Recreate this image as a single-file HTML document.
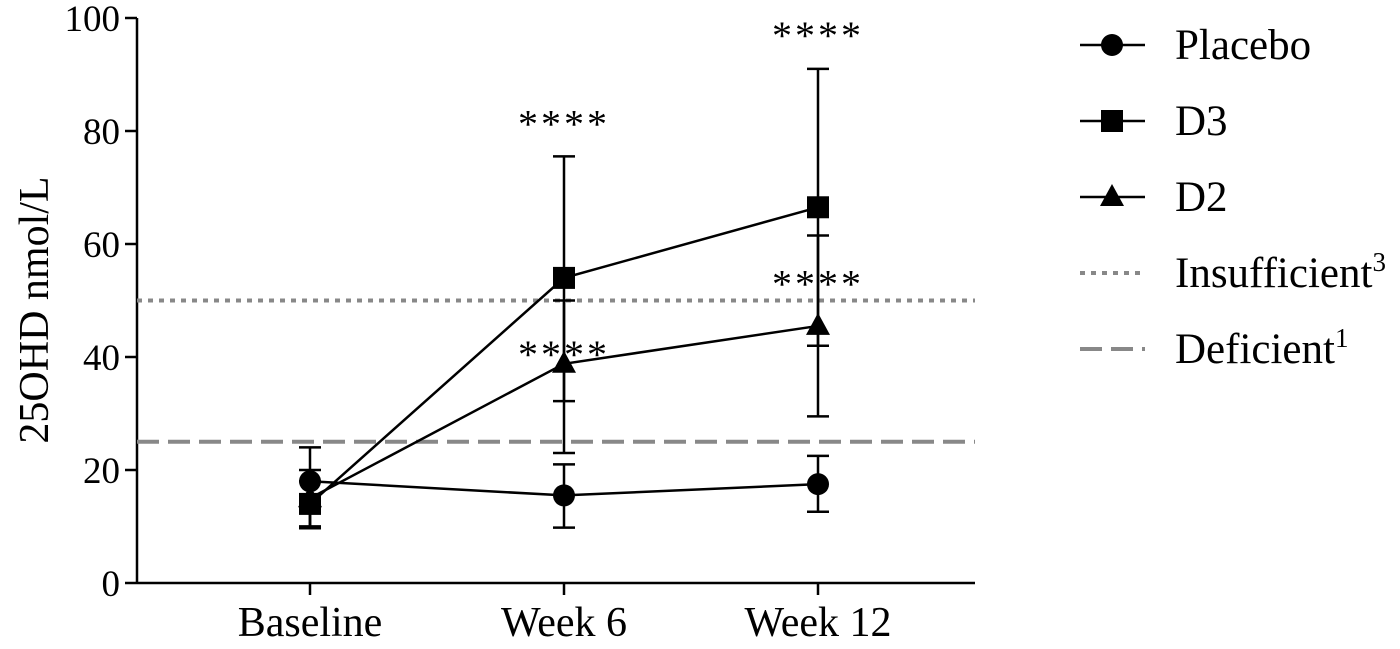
<!DOCTYPE html>
<html><head><meta charset="utf-8"><style>
body{margin:0;background:#fff}
svg text{font-family:"Liberation Serif",serif;fill:#000}
</style></head><body>
<svg id="chart" width="1400" height="644" viewBox="0 0 1400 644" xmlns="http://www.w3.org/2000/svg">
<g id="axes"></g><g id="refs"></g><g id="series"></g><g id="legend"></g>
</svg>
<script>
const categories=["Baseline","Week 6","Week 12"];
const yTicks=[0,20,40,60,80,100];
const placeboMean=[18,15.5,17.5];
const placeboLo=[10,9.8,12.6];
const placeboHi=[24,21,22.5];
const d3Mean=[14,54,66.5];
const d3Lo=[10,32.2,42];
const d3Hi=[18,75.5,91];
const d2Mean=[15,38.8,45.5];
const d2Lo=[9.7,23,29.5];
const d2Hi=[20,50,61.5];
const insufficientLevel=50;
const deficientLevel=25;
const sigLabels=[["","****","****"],["","****","****"]];

const NS="http://www.w3.org/2000/svg";
const x0=137,x1=975,yBase=583,pxPerUnit=5.65;
const ys=v=>yBase-v*pxPerUnit;
const xs=i=>310+i*254;
function mk(tag,attrs,parent,text){const e=document.createElementNS(NS,tag);for(const k in attrs)e.setAttribute(k,attrs[k]);if(text!==undefined)e.textContent=text;parent.appendChild(e);return e;}
const axes=document.getElementById('axes'),refs=document.getElementById('refs'),ser=document.getElementById('series'),leg=document.getElementById('legend');

let e=mk('line',{x1:x0,y1:ys(100),x2:x0,y2:yBase,stroke:'#000','stroke-width':2.5},axes);

e=mk('line',{x1:x0,y1:yBase,x2:x1,y2:yBase,stroke:'#000','stroke-width':2.5},axes);

yTicks.forEach(t=>{
  mk('line',{x1:x0-12,y1:ys(t),x2:x0,y2:ys(t),stroke:'#000','stroke-width':2.5},axes);
  const l=mk('text',{x:x0-17,y:ys(t)+13,'text-anchor':'end','font-size':37},axes,String(t));
  
});
categories.forEach((c,i)=>{
  mk('line',{x1:xs(i),y1:yBase,x2:xs(i),y2:yBase+12,stroke:'#000','stroke-width':2.5},axes);
  const l=mk('text',{x:xs(i),y:yBase+53,'text-anchor':'middle','font-size':42},axes,c);
  
});
e=mk('text',{x:0,y:0,transform:'translate(48,310) rotate(-90)','text-anchor':'middle','font-size':42},axes,'25OHD nmol/L');


e=mk('line',{x1:x0,y1:ys(insufficientLevel),x2:x1,y2:ys(insufficientLevel),stroke:'#888','stroke-width':4,'stroke-dasharray':'5,6'},refs);

e=mk('line',{x1:x0,y1:ys(deficientLevel),x2:x1,y2:ys(deficientLevel),stroke:'#888','stroke-width':4,'stroke-dasharray':'22,9'},refs);


function marker(shape,cx,cy,p){
  if(shape==='circle')return mk('circle',{cx:cx,cy:cy,r:11,fill:'#000'},p);
  if(shape==='square')return mk('rect',{x:cx-11,y:cy-11,width:22,height:22,fill:'#000'},p);
  return mk('polygon',{points:`${cx},${cy-13} ${cx-12},${cy+9} ${cx+12},${cy+9}`,fill:'#000'},p);
}
const seriesList=[['placebo',placeboMean,placeboLo,placeboHi,'circle'],['d3',d3Mean,d3Lo,d3Hi,'square'],['d2',d2Mean,d2Lo,d2Hi,'triangle']];
seriesList.forEach(([name,m,lo,hi,shape])=>{
  const g=mk('g',{},ser);
  
  const pl=mk('polyline',{points:m.map((v,i)=>xs(i)+','+ys(v)).join(' '),fill:'none',stroke:'#000','stroke-width':2.5},g);
  
  m.forEach((v,i)=>{
    const x=xs(i);
    const eb=mk('path',{d:`M${x},${ys(lo[i])}V${ys(hi[i])}M${x-11},${ys(lo[i])}h22M${x-11},${ys(hi[i])}h22`,stroke:'#000','stroke-width':2.5,fill:'none'},g);
    
    const mm=marker(shape,x,ys(v),g);
    
  });
});
const sigY=[[0,ys(d3Hi[1])-39,ys(d3Hi[2])-40],[0,ys(d2Mean[1])-16,ys(d2Hi[2])+42]];
sigLabels.forEach((row,r)=>row.forEach((s,i)=>{if(!s)return;
  const t=mk('text',{x:xs(i),y:sigY[r][i]+20,'text-anchor':'middle','font-size':40,'letter-spacing':3},ser,s);
  }));

const legItems=[['Placebo','circle',null],['D3','square',null],['D2','triangle',null],['Insufficient','dot','3'],['Deficient','dash','1']];
legItems.forEach(([lab,shape,sup],k)=>{
  const y=45+k*76;
  const g=mk('g',{},leg);
  
  if(shape==='dot')mk('line',{x1:1080,y1:y,x2:1145,y2:y,stroke:'#888','stroke-width':4,'stroke-dasharray':'5,6'},g);
  else if(shape==='dash')mk('line',{x1:1080,y1:y,x2:1145,y2:y,stroke:'#888','stroke-width':4,'stroke-dasharray':'22,9'},g);
  else{mk('line',{x1:1080,y1:y,x2:1145,y2:y,stroke:'#000','stroke-width':2.5},g);marker(shape,1112,y,g);}
  const t=mk('text',{x:1175,y:y+14,'font-size':43},g,lab);
  if(sup){mk('tspan',{'font-size':27,dy:-16},t,sup);}
});
</script>
</body></html>
